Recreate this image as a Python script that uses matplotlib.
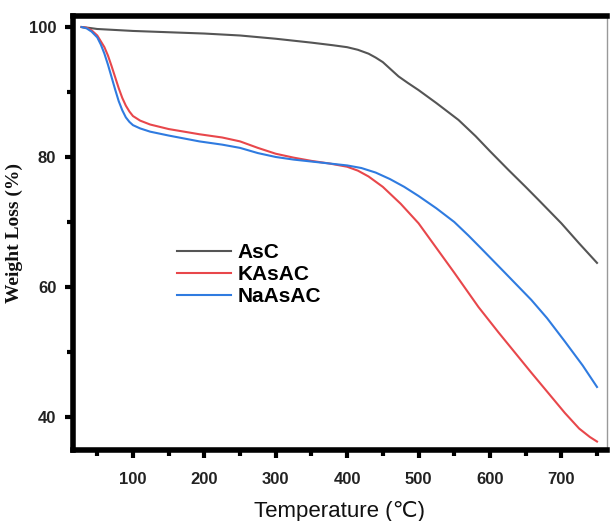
import matplotlib
matplotlib.use("Agg")
import matplotlib.pyplot as plt
from matplotlib.ticker import MultipleLocator

# AsC
t_asc = [28, 40, 50, 75, 100, 150, 200, 250, 300, 350, 380, 400, 415, 430, 440, 450, 460, 472, 485, 500,
         525, 556, 580, 600, 626, 650, 668, 700, 725, 750]
w_asc = [100, 99.85, 99.7, 99.55, 99.4, 99.2, 99.0, 98.7, 98.2, 97.6, 97.2, 96.9, 96.5, 95.9, 95.3, 94.6, 93.6, 92.4, 91.4, 90.3,
         88.3, 85.7, 83.2, 80.9, 78.0, 75.4, 73.4, 69.8, 66.7, 63.7]
# KAsAC
t_k = [28, 35, 42, 50, 60, 65, 70, 75, 80, 85, 90, 95, 100, 110, 124, 150, 193, 225, 250, 275, 300, 325, 350,
       375, 400, 415, 430, 450, 475, 500, 525, 550, 584, 612, 635, 658, 680, 705, 725, 740, 750]
w_k = [100, 99.9, 99.5, 98.7, 96.9, 95.6, 94.0, 92.3, 90.6, 89.1, 87.9, 87.0, 86.3, 85.6, 85.0, 84.3, 83.5, 83.0, 82.4, 81.4, 80.5, 79.9, 79.4,
       79.0, 78.5, 77.9, 77.0, 75.4, 72.8, 69.8, 66.0, 62.2, 56.9, 53.0, 49.9, 46.8, 43.9, 40.6, 38.2, 36.9, 36.2]
# NaAsAC
t_na = [28, 35, 42, 50, 55, 60, 65, 70, 75, 80, 85, 90, 95, 100, 110, 124, 150, 193, 225, 250, 275, 300, 325, 350,
        375, 400, 420, 440, 460, 480, 500, 525, 550, 570, 588, 620, 658, 680, 705, 730, 750]
w_na = [100, 99.8, 99.3, 98.4, 97.3, 95.9, 94.2, 92.3, 90.4, 88.6, 87.2, 86.1, 85.4, 84.9, 84.4, 83.9, 83.3, 82.4, 81.9, 81.4, 80.6, 80.0, 79.6, 79.3,
        79.0, 78.7, 78.3, 77.6, 76.6, 75.4, 74.0, 72.1, 70.0, 67.9, 65.9, 62.3, 58.0, 55.2, 51.6, 47.9, 44.6]

fig = plt.figure(figsize=(6.10, 5.21), dpi=100)
ax = fig.add_axes([73/610, 1-450/521, (607-73)/610, (450-16)/521])

ax.plot(t_asc, w_asc, color="#555555", lw=1.5, label="AsC")
ax.plot(t_k, w_k, color="#e8474b", lw=1.5, label="KAsAC")
ax.plot(t_na, w_na, color="#2f7be0", lw=1.5, label="NaAsAC")

ax.set_xlim(16, 764)
ax.set_ylim(34.9, 101.7)
ax.xaxis.set_major_locator(MultipleLocator(100))
ax.xaxis.set_minor_locator(MultipleLocator(50))
ax.yaxis.set_minor_locator(MultipleLocator(10))
ax.set_yticks([40, 60, 80, 100])

for s in ["left", "bottom", "top"]:
    ax.spines[s].set_linewidth(4)
    ax.spines[s].set_color("black")
ax.spines["right"].set_linewidth(1)
ax.spines["right"].set_color("#999999")

ax.tick_params(which="major", direction="out", length=6, width=3, top=False, right=False,
               labelsize=12)
ax.tick_params(axis="x", which="major", pad=10)
ax.tick_params(axis="y", which="major", pad=6)
ax.tick_params(which="minor", direction="out", length=4, width=3, top=False, right=False)
for lab in ax.get_xticklabels() + ax.get_yticklabels():
    lab.set_fontfamily("Liberation Sans")
    lab.set_fontweight("bold")
    lab.set_color("#222222")

ax.set_xlabel("Temperature (℃)", fontsize=16, family=["Liberation Sans", "DejaVu Sans"],
              labelpad=10, color="#111111")
ax.set_ylabel("Weight Loss (%)", fontsize=14, fontfamily="Liberation Serif", fontweight="bold",
              labelpad=4, color="#111111")

leg = ax.legend(loc="upper left", bbox_to_anchor=(0.16, 0.52), frameon=False,
                prop={"family": "Liberation Sans", "weight": "bold", "size": 15},
                handlelength=2.6, handletextpad=0.3, labelspacing=0.15)

fig.savefig("out.png", dpi=100)
